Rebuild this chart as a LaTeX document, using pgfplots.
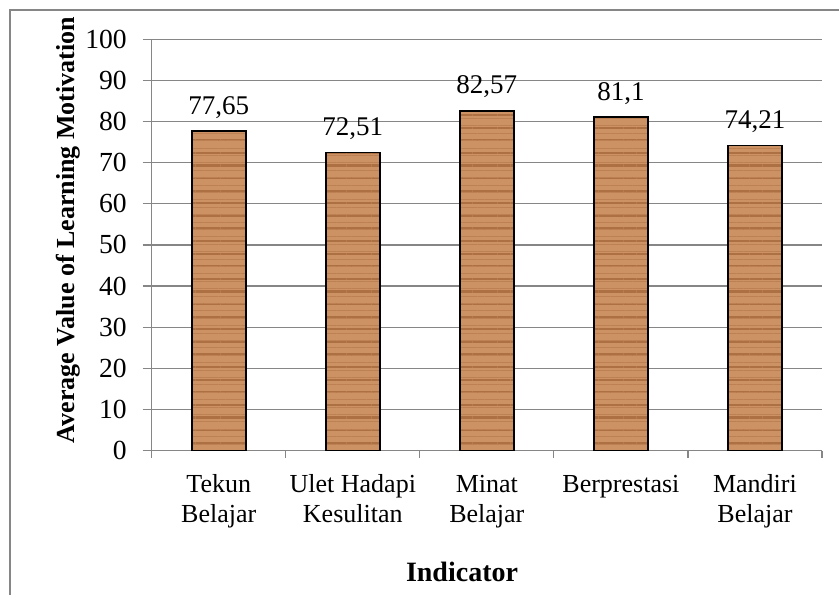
\documentclass[border=0pt]{standalone}
\usepackage{pgfplots}
\pgfplotsset{compat=1.18}
\usepackage{fontspec}
\setmainfont{Liberation Serif}
\usetikzlibrary{patterns.meta}
\definecolor{gridgray}{RGB}{134,134,134}
\definecolor{woodbase}{RGB}{205,146,100}
\definecolor{wooddark}{RGB}{172,112,66}
\definecolor{woodmid}{RGB}{188,128,82}
\begin{document}
\begin{tikzpicture}
\path[use as bounding box] (0,0) rectangle (419.5pt,-297pt);
\draw[gridgray, line width=0.6pt] (5pt,-310pt) -- (5pt,-5pt) -- (430pt,-5pt);
\begin{axis}[
  scale only axis,
  width=335.15pt, height=205.6pt,
  at={(75.85pt,-225.25pt)}, anchor=south west,
  xmin=-0.5, xmax=4.5, ymin=0, ymax=100,
  axis x line*=bottom, axis y line*=left,
  axis line style={draw=gridgray, line width=0.6pt},
  ymajorgrids, major grid style={draw=gridgray, line width=0.6pt},
  ytick={0,10,...,100},
  xtick={0,1,2,3,4},
  minor xtick={-0.5,0.5,...,4.5},
  xticklabels={Tekun\\Belajar, Ulet Hadapi\\Kesulitan, Minat\\Belajar, Berprestasi, Mandiri\\Belajar},
  tick align=outside,
  major tick length=4.5pt, minor tick length=3.5pt,
  every tick/.style={draw=gridgray, line width=0.6pt},
  every major x tick/.style={draw=none},
  /pgf/number format/assume math mode=true,
  xticklabel style={font=\fontsize{13}{15}\selectfont, align=center, anchor=north, inner sep=0pt, yshift=-7.5pt},
  yticklabel style={font=\fontsize{13.8}{15}\selectfont, anchor=east, inner sep=0pt, xshift=-7.8pt},
  bar width=27pt,
  nodes near coords,
  /pgf/number format/use comma,
  every node near coord/.append style={font=\fontsize{13.5}{15}\selectfont, anchor=base, inner sep=0pt, yshift=8.5pt, text=black},
]
\addplot[ybar, fill=woodbase, draw=black, line width=0.8pt,
  postaction={pattern={Lines[angle=0, distance=6.3pt, line width=1.1pt]}, pattern color=wooddark},
  postaction={pattern={Lines[angle=0, distance=3.7pt, line width=0.45pt, yshift=1pt]}, pattern color=woodmid}]
  coordinates {(0,77.65) (1,72.51) (2,82.57) (3,81.1) (4,74.21)};
\end{axis}
\node[rotate=90, anchor=base, font=\bfseries\fontsize{13}{15}\selectfont] at (37pt,-115pt) {Average Value of Learning Motivation};
\node[anchor=base, font=\bfseries\fontsize{14}{16}\selectfont] at (231pt,-290.85pt) {Indicator};
\end{tikzpicture}
\end{document}
